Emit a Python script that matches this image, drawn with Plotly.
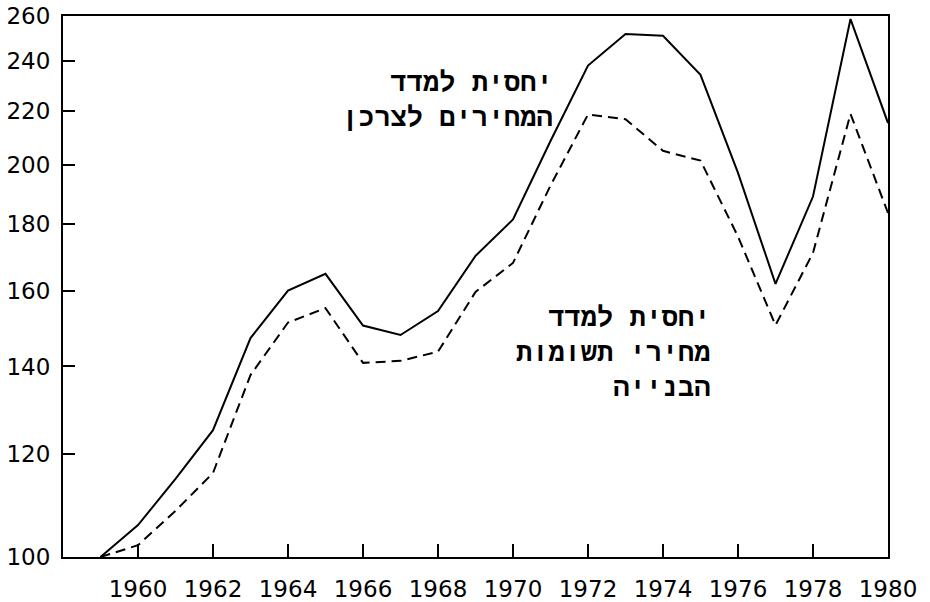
import plotly.graph_objects as go

years = list(range(1959, 1981))
consumer_rel = [100, 105.8, 114.8, 125.1, 147.2, 160.1, 164.9, 150.5, 148.0, 154.4, 170.2,
                181.5, 208.5, 238.2, 251.9, 251.1, 234.3, 197.1, 162.0, 189.0, 258.6, 215.2]
construction_rel = [100, 102.1, 108.5, 116.0, 137.9, 151.3, 155.2, 140.9, 141.4, 143.7, 159.7,
                    168.1, 192.7, 218.5, 216.7, 204.9, 201.4, 176.1, 150.6, 171.1, 218.7, 183.6]
y_ticks = [100, 120, 140, 160, 180, 200, 220, 240, 260]
x_ticks = list(range(1960, 1981, 2))
label_consumer = "יחסית למדד<br>המחירים לצרכן"
label_construction = "יחסית למדד<br>מחירי תשומות<br>הבנייה"

fig = go.Figure()
fig.add_trace(go.Scatter(x=years, y=consumer_rel, mode="lines",
                         line=dict(color="black", width=2), showlegend=False))
fig.add_trace(go.Scatter(x=years, y=construction_rel, mode="lines",
                         line=dict(color="black", width=2, dash="10px,6px"), showlegend=False))

hebrew_font = dict(family="DejaVu Sans Mono, Liberation Mono, monospace", size=27,
                   color="black", weight="bold")
fig.add_annotation(text=label_consumer, xref="paper", yref="paper", x=0.596, y=0.847,
                   xanchor="right", yanchor="middle", align="right", showarrow=False,
                   font=hebrew_font)
fig.add_annotation(text=label_construction, xref="paper", yref="paper", x=0.787, y=0.379,
                   xanchor="right", yanchor="middle", align="right", showarrow=False,
                   font=hebrew_font)

xfont = dict(family="DejaVu Sans, sans-serif", size=23, color="black")
yfont = dict(family="DejaVu Sans, sans-serif", size=23, color="black")
fig.update_xaxes(range=[1958, 1980], tickvals=x_ticks, ticktext=[str(t) for t in x_ticks],
                 ticks="inside", ticklen=13, tickwidth=2, tickcolor="black",
                 showline=True, linewidth=2, linecolor="black", mirror=True,
                 showgrid=False, zeroline=False, tickfont=xfont, ticklabelstandoff=10,
                 automargin=False)
fig.update_yaxes(type="log", range=[2, 2.41497], tickvals=y_ticks,
                 ticktext=[str(t) for t in y_ticks],
                 ticks="inside", ticklen=12, tickwidth=2, tickcolor="black",
                 showline=True, linewidth=2, linecolor="black", mirror=True,
                 showgrid=False, zeroline=False, tickfont=yfont, ticklabelstandoff=6,
                 automargin=False)
fig.update_layout(width=930, height=602, margin=dict(l=63, r=42, t=16, b=45),
                  plot_bgcolor="white", paper_bgcolor="white")
fig.write_html("out.html", config={"displayModeBar": False},
               post_script="document.body.style.margin='0';document.body.style.overflow='hidden';")
